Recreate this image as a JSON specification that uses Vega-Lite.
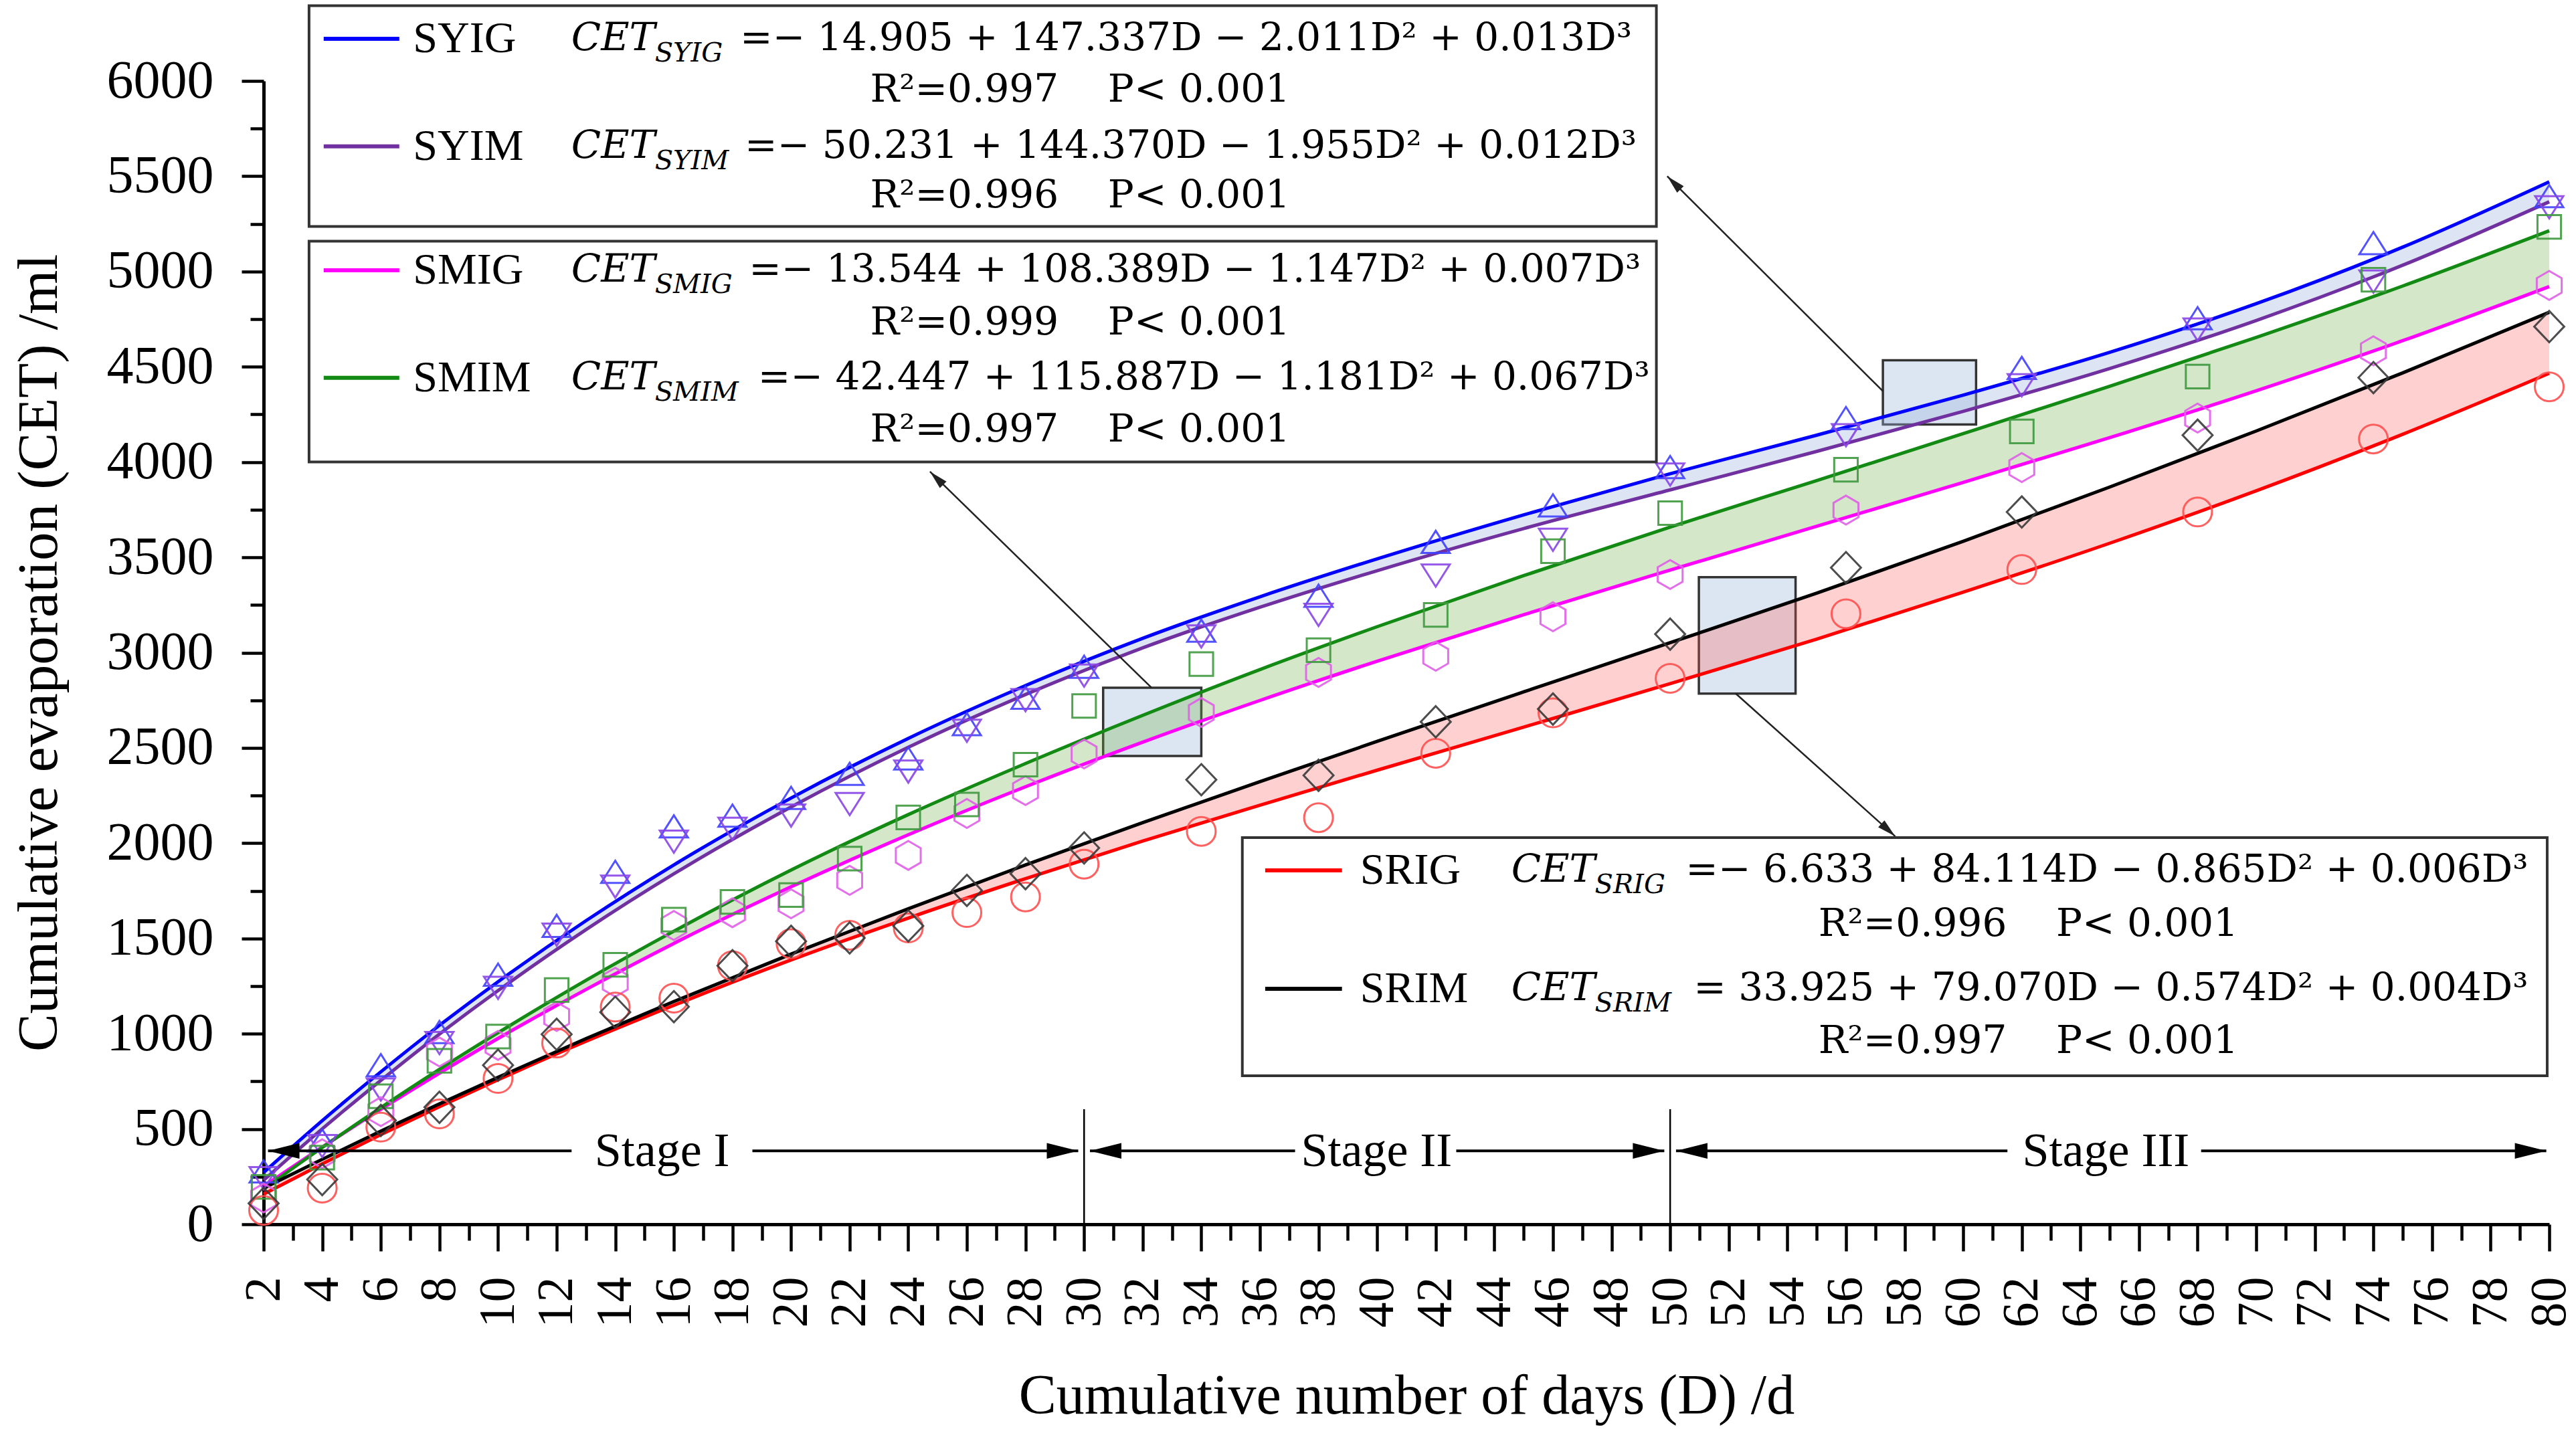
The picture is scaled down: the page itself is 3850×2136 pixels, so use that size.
{
  "$schema": "https://vega.github.io/schema/vega-lite/v6.json",
  "width": 3416,
  "height": 1709,
  "autosize": {"type": "none"},
  "padding": {"left": 394, "top": 121, "right": 40, "bottom": 306},
  "background": "white",
  "config": {"view": {"stroke": null}, "axis": {"grid": false}},
  "datasets": {
    "fit": [
      {"D": 2, "SYIG": 272, "SYIM": 231, "SMIG": 199, "SMIM": 185, "SRIG": 158, "SRIM": 190},
      {"D": 4, "SYIG": 544, "SYIM": 501, "SMIG": 405, "SMIM": 403, "SRIG": 317, "SRIM": 341},
      {"D": 6, "SYIG": 800, "SYIM": 755, "SMIG": 603, "SMIM": 612, "SRIG": 470, "SRIM": 489},
      {"D": 8, "SYIG": 1044, "SYIM": 998, "SMIG": 793, "SMIM": 813, "SRIG": 617, "SRIM": 632},
      {"D": 10, "SYIG": 1273, "SYIM": 1226, "SMIG": 975, "SMIM": 1005, "SRIG": 758, "SRIM": 771},
      {"D": 13, "SYIG": 1593, "SYIM": 1546, "SMIG": 1232, "SMIM": 1280, "SRIG": 960, "SRIM": 974},
      {"D": 16, "SYIG": 1886, "SYIM": 1839, "SMIG": 1474, "SMIM": 1538, "SRIG": 1149, "SRIM": 1169},
      {"D": 20, "SYIG": 2237, "SYIM": 2190, "SMIG": 1771, "SMIM": 1859, "SRIG": 1387, "SRIM": 1418},
      {"D": 24, "SYIG": 2550, "SYIM": 2503, "SMIG": 2044, "SMIM": 2150, "SRIG": 1607, "SRIM": 1656},
      {"D": 28, "SYIG": 2827, "SYIM": 2780, "SMIG": 2296, "SMIM": 2418, "SRIG": 1814, "SRIM": 1886},
      {"D": 32, "SYIG": 3075, "SYIM": 3025, "SMIG": 2530, "SMIM": 2671, "SRIG": 2011, "SRIM": 2108},
      {"D": 36, "SYIG": 3293, "SYIM": 3238, "SMIG": 2749, "SMIM": 2911, "SRIG": 2199, "SRIM": 2323},
      {"D": 40, "SYIG": 3492, "SYIM": 3430, "SMIG": 2955, "SMIM": 3136, "SRIG": 2383, "SRIM": 2534},
      {"D": 45, "SYIG": 3723, "SYIM": 3651, "SMIG": 3199, "SMIM": 3404, "SRIG": 2609, "SRIM": 2794},
      {"D": 50, "SYIG": 3939, "SYIM": 3854, "SMIG": 3433, "SMIM": 3659, "SRIG": 2837, "SRIM": 3052},
      {"D": 55, "SYIG": 4141, "SYIM": 4056, "SMIG": 3663, "SMIM": 3903, "SRIG": 3071, "SRIM": 3312},
      {"D": 60, "SYIG": 4351, "SYIM": 4266, "SMIG": 3893, "SMIM": 4149, "SRIG": 3317, "SRIM": 3584},
      {"D": 65, "SYIG": 4576, "SYIM": 4491, "SMIG": 4128, "SMIM": 4398, "SRIG": 3574, "SRIM": 3869},
      {"D": 70, "SYIG": 4831, "SYIM": 4743, "SMIG": 4374, "SMIM": 4654, "SRIG": 3849, "SRIM": 4163},
      {"D": 75, "SYIG": 5128, "SYIM": 5033, "SMIG": 4637, "SMIM": 4924, "SRIG": 4146, "SRIM": 4468},
      {"D": 80, "SYIG": 5471, "SYIM": 5366, "SMIG": 4921, "SMIM": 5214, "SRIG": 4466, "SRIM": 4786}
    ],
    "obs": [
      {"D": 2, "SYIG": 278, "SYIM": 242, "SMIG": 138, "SMIM": 196, "SRIG": 73, "SRIM": 110},
      {"D": 4, "SYIG": 440, "SYIM": 410, "SMIG": 370, "SMIM": 350, "SRIG": 190, "SRIM": 235},
      {"D": 6, "SYIG": 835, "SYIM": 707, "SMIG": 591, "SMIM": 672, "SRIG": 510, "SRIM": 545},
      {"D": 8, "SYIG": 1009, "SYIM": 951, "SMIG": 904, "SMIM": 858, "SRIG": 579, "SRIM": 614},
      {"D": 10, "SYIG": 1310, "SYIM": 1241, "SMIG": 939, "SMIM": 985, "SRIG": 765, "SRIM": 835},
      {"D": 12, "SYIG": 1566, "SYIM": 1520, "SMIG": 1090, "SMIM": 1229, "SRIG": 951, "SRIM": 997},
      {"D": 14, "SYIG": 1850, "SYIM": 1772, "SMIG": 1270, "SMIM": 1362, "SRIG": 1140, "SRIM": 1113},
      {"D": 16, "SYIG": 2088, "SYIM": 2008, "SMIG": 1568, "SMIM": 1599, "SRIG": 1187, "SRIM": 1142},
      {"D": 18, "SYIG": 2145, "SYIM": 2075, "SMIG": 1635, "SMIM": 1692, "SRIG": 1357, "SRIM": 1357},
      {"D": 20, "SYIG": 2238, "SYIM": 2145, "SMIG": 1682, "SMIM": 1728, "SRIG": 1473, "SRIM": 1485},
      {"D": 22, "SYIG": 2364, "SYIM": 2205, "SMIG": 1805, "SMIM": 1919, "SRIG": 1517, "SRIM": 1503},
      {"D": 24, "SYIG": 2445, "SYIM": 2376, "SMIG": 1936, "SMIM": 2135, "SRIG": 1555, "SRIM": 1566},
      {"D": 26, "SYIG": 2625, "SYIM": 2590, "SMIG": 2156, "SMIM": 2203, "SRIG": 1636, "SRIM": 1752},
      {"D": 28, "SYIG": 2763, "SYIM": 2750, "SMIG": 2276, "SMIM": 2412, "SRIG": 1718, "SRIM": 1840},
      {"D": 30, "SYIG": 2926, "SYIM": 2879, "SMIG": 2468, "SMIM": 2720, "SRIG": 1890, "SRIM": 1975},
      {"D": 34, "SYIG": 3115, "SYIM": 3085, "SMIG": 2686, "SMIM": 2940, "SRIG": 2062, "SRIM": 2333},
      {"D": 38, "SYIG": 3299, "SYIM": 3198, "SMIG": 2896, "SMIM": 3013, "SRIG": 2134, "SRIM": 2356},
      {"D": 42, "SYIG": 3581, "SYIM": 3404, "SMIG": 2981, "SMIM": 3198, "SRIG": 2472, "SRIM": 2637},
      {"D": 46, "SYIG": 3773, "SYIM": 3592, "SMIG": 3188, "SMIM": 3532, "SRIG": 2684, "SRIM": 2704},
      {"D": 50, "SYIG": 3974, "SYIM": 3934, "SMIG": 3410, "SMIM": 3732, "SRIG": 2865, "SRIM": 3097},
      {"D": 56, "SYIG": 4231, "SYIM": 4141, "SMIG": 3748, "SMIM": 3960, "SRIG": 3204, "SRIM": 3446},
      {"D": 62, "SYIG": 4494, "SYIM": 4403, "SMIG": 3971, "SMIM": 4161, "SRIG": 3436, "SRIM": 3738},
      {"D": 68, "SYIG": 4755, "SYIM": 4695, "SMIG": 4231, "SMIM": 4449, "SRIG": 3738, "SRIM": 4141},
      {"D": 74, "SYIG": 5149, "SYIM": 4947, "SMIG": 4584, "SMIM": 4957, "SRIG": 4121, "SRIM": 4443},
      {"D": 80, "SYIG": 5396, "SYIM": 5337, "SMIG": 4927, "SMIM": 5234, "SRIG": 4395, "SRIM": 4711}
    ],
    "mags": [
      {"D": 30.65, "D2": 34.0, "v": 2458, "v2": 2816},
      {"D": 50.98, "D2": 54.28, "v": 2785, "v2": 3396},
      {"D": 57.26, "D2": 60.44, "v": 4197, "v2": 4534}
    ],
    "pointers": [
      {"D": 57.26, "v": 4372, "D2": 49.9, "v2": 5500},
      {"D": 32.3, "v": 2816, "D2": 24.74, "v2": 3950},
      {"D": 52.24, "v": 2785, "D2": 57.68, "v2": 2036}
    ],
    "tips": [
      {"D": 49.9, "v": 5500, "dir": "ul"},
      {"D": 24.74, "v": 3950, "dir": "ul"},
      {"D": 57.68, "v": 2036, "dir": "dr"}
    ],
    "stagelines": [
      {"D": 2.15, "D2": 12.51, "v": 385},
      {"D": 18.68, "D2": 29.8, "v": 385},
      {"D": 30.2, "D2": 37.2, "v": 385},
      {"D": 42.7, "D2": 49.8, "v": 385},
      {"D": 50.2, "D2": 61.51, "v": 385},
      {"D": 68.12, "D2": 79.9, "v": 385}
    ],
    "dividers": [
      {"D": 30, "v": 0, "v2": 604},
      {"D": 50, "v": 0, "v2": 604}
    ],
    "heads": [
      {"D": 2.15, "v": 385, "dir": "L"},
      {"D": 30.2, "v": 385, "dir": "L"},
      {"D": 50.2, "v": 385, "dir": "L"},
      {"D": 29.8, "v": 385, "dir": "R"},
      {"D": 49.8, "v": 385, "dir": "R"},
      {"D": 79.9, "v": 385, "dir": "R"}
    ],
    "boxes": [
      {"D": 3.55, "D2": 49.53, "v": 5236, "v2": 6395},
      {"D": 3.55, "D2": 49.53, "v": 4001, "v2": 5159},
      {"D": 35.4, "D2": 79.93, "v": 779, "v2": 2029}
    ],
    "keys": [
      {"D": 4.05, "D2": 6.63, "v": 6221, "s": "SYIG"},
      {"D": 4.05, "D2": 6.63, "v": 5657, "s": "SYIM"},
      {"D": 4.05, "D2": 6.63, "v": 5006, "s": "SMIG"},
      {"D": 4.05, "D2": 6.63, "v": 4442, "s": "SMIM"},
      {"D": 36.18, "D2": 38.8, "v": 1857, "s": "SRIG"},
      {"D": 36.18, "D2": 38.8, "v": 1236, "s": "SRIM"}
    ],
    "notes": [
      {"D": 7.1, "v": 6221, "t": "SYIG", "k": "label"},
      {"D": 7.1, "v": 5657, "t": "SYIM", "k": "label"},
      {"D": 7.1, "v": 5006, "t": "SMIG", "k": "label"},
      {"D": 7.1, "v": 4442, "t": "SMIM", "k": "label"},
      {"D": 39.42, "v": 1857, "t": "SRIG", "k": "label"},
      {"D": 39.42, "v": 1236, "t": "SRIM", "k": "label"},
      {"D": 12.5, "v": 6221, "t": "CET", "k": "cet"},
      {"D": 12.5, "v": 5657, "t": "CET", "k": "cet"},
      {"D": 12.5, "v": 5006, "t": "CET", "k": "cet"},
      {"D": 12.5, "v": 4442, "t": "CET", "k": "cet"},
      {"D": 44.58, "v": 1857, "t": "CET", "k": "cet"},
      {"D": 44.58, "v": 1236, "t": "CET", "k": "cet"},
      {"D": 15.35, "v": 6143, "t": "SYIG", "k": "sub"},
      {"D": 15.35, "v": 5579, "t": "SYIM", "k": "sub"},
      {"D": 15.35, "v": 4928, "t": "SMIG", "k": "sub"},
      {"D": 15.35, "v": 4364, "t": "SMIM", "k": "sub"},
      {"D": 47.43, "v": 1779, "t": "SRIG", "k": "sub"},
      {"D": 47.43, "v": 1158, "t": "SRIM", "k": "sub"},
      {"D": 18.26, "v": 6221, "t": "=− 14.905 + 147.337D − 2.011D² + 0.013D³", "k": "eq"},
      {"D": 18.42, "v": 5657, "t": "=− 50.231 + 144.370D − 1.955D² + 0.012D³", "k": "eq"},
      {"D": 18.56, "v": 5006, "t": "=− 13.544 + 108.389D − 1.147D² + 0.007D³", "k": "eq"},
      {"D": 18.87, "v": 4442, "t": "=− 42.447 + 115.887D − 1.181D² + 0.067D³", "k": "eq"},
      {"D": 50.53, "v": 1857, "t": "=− 6.633 + 84.114D − 0.865D² + 0.006D³", "k": "eq"},
      {"D": 50.8, "v": 1236, "t": "= 33.925 + 79.070D − 0.574D² + 0.004D³", "k": "eq"},
      {"D": 22.7, "v": 5951, "t": "R²=0.997\u00a0\u00a0\u00a0\u00a0P< 0.001", "k": "r2"},
      {"D": 22.7, "v": 5396, "t": "R²=0.996\u00a0\u00a0\u00a0\u00a0P< 0.001", "k": "r2"},
      {"D": 22.7, "v": 4729, "t": "R²=0.999\u00a0\u00a0\u00a0\u00a0P< 0.001", "k": "r2"},
      {"D": 22.7, "v": 4168, "t": "R²=0.997\u00a0\u00a0\u00a0\u00a0P< 0.001", "k": "r2"},
      {"D": 55.06, "v": 1573, "t": "R²=0.996\u00a0\u00a0\u00a0\u00a0P< 0.001", "k": "r2"},
      {"D": 55.06, "v": 958, "t": "R²=0.997\u00a0\u00a0\u00a0\u00a0P< 0.001", "k": "r2"},
      {"D": 15.6, "v": 384, "t": "Stage I", "k": "stage"},
      {"D": 39.98, "v": 384, "t": "Stage II", "k": "stage"},
      {"D": 64.87, "v": 384, "t": "Stage III", "k": "stage"}
    ]
  },
  "layer": [
    {
      "data": {"name": "mags"},
      "mark": {"type": "rect", "fill": "#dce6f2", "stroke": "#333333", "strokeWidth": 3.5},
      "encoding": {
        "x": {
          "field": "D", "type": "quantitative",
          "scale": {"domain": [2, 80], "nice": false, "zero": false},
          "axis": {
            "values": [2,3,4,5,6,7,8,9,10,11,12,13,14,15,16,17,18,19,20,21,22,23,24,25,26,27,28,29,30,31,32,33,34,35,36,37,38,39,40,41,42,43,44,45,46,47,48,49,50,51,52,53,54,55,56,57,58,59,60,61,62,63,64,65,66,67,68,69,70,71,72,73,74,75,76,77,78,79,80],
            "format": "d",
            "labelExpr": "datum.value % 2 === 0 ? datum.label : ''",
            "labelAngle": -90,
            "labelFont": "Liberation Serif",
            "labelFontSize": 76,
            "labelColor": "black",
            "labelPadding": 38,
            "labelFlush": false,
            "labelOverlap": false,
            "labelBound": false,
            "tickColor": "black",
            "tickWidth": 4.5,
            "tickSize": {"condition": {"test": "datum.value % 2 === 0", "value": 40}, "value": 24},
            "domainColor": "black",
            "domainWidth": 5,
            "grid": false,
            "title": "Cumulative number of days (D) /d",
            "titleFont": "Liberation Serif",
            "titleFontSize": 84,
            "titleFontWeight": "normal",
            "titleColor": "black",
            "titlePadding": 62
          }
        },
        "x2": {"field": "D2"},
        "y": {
          "field": "v", "type": "quantitative",
          "scale": {"domain": [0, 6000], "nice": false, "zero": false},
          "axis": {
            "values": [0,250,500,750,1000,1250,1500,1750,2000,2250,2500,2750,3000,3250,3500,3750,4000,4250,4500,4750,5000,5250,5500,5750,6000],
            "format": "d",
            "labelExpr": "datum.value % 500 === 0 ? datum.label : ''",
            "labelFont": "Liberation Serif",
            "labelFontSize": 80,
            "labelColor": "black",
            "labelPadding": 42,
            "labelFlush": false,
            "labelOverlap": false,
            "labelBound": false,
            "tickColor": "black",
            "tickWidth": 4.5,
            "tickSize": {"condition": {"test": "datum.value % 500 === 0", "value": 33}, "value": 20},
            "domainColor": "black",
            "domainWidth": 5,
            "grid": false,
            "title": "Cumulative evaporation (CET) /ml",
            "titleFont": "Liberation Serif",
            "titleFontSize": 85,
            "titleFontWeight": "normal",
            "titleColor": "black",
            "titlePadding": 92
          }
        },
        "y2": {"field": "v2"}
      }
    },
    {
      "data": {"name": "fit"},
      "mark": {"type": "area", "color": "#9db3e0", "opacity": 0.35, "interpolate": "monotone"},
      "encoding": {
        "x": {"field": "D", "type": "quantitative"},
        "y": {"field": "SYIG", "type": "quantitative"},
        "y2": {"field": "SYIM"}
      }
    },
    {
      "data": {"name": "fit"},
      "mark": {"type": "area", "color": "#6fb04a", "opacity": 0.3, "interpolate": "monotone"},
      "encoding": {
        "x": {"field": "D", "type": "quantitative"},
        "y": {"field": "SMIM", "type": "quantitative"},
        "y2": {"field": "SMIG"}
      }
    },
    {
      "data": {"name": "fit"},
      "mark": {"type": "area", "color": "#ff5555", "opacity": 0.28, "interpolate": "monotone"},
      "encoding": {
        "x": {"field": "D", "type": "quantitative"},
        "y": {"field": "SRIM", "type": "quantitative"},
        "y2": {"field": "SRIG"}
      }
    },
    {
      "data": {"name": "fit"},
      "transform": [{"fold": ["SYIG", "SYIM", "SMIG", "SMIM", "SRIG", "SRIM"], "as": ["s", "v"]}],
      "mark": {"type": "line", "strokeWidth": 5, "interpolate": "monotone"},
      "encoding": {
        "x": {"field": "D", "type": "quantitative"},
        "y": {"field": "v", "type": "quantitative"},
        "color": {
          "field": "s", "type": "nominal", "legend": null,
          "scale": {
            "domain": ["SYIG", "SYIM", "SMIG", "SMIM", "SRIG", "SRIM"],
            "range": ["#0000ff", "#7030a0", "#ff00ff", "#138a13", "#ff0000", "#000000"]
          }
        }
      }
    },
    {
      "data": {"name": "obs"},
      "transform": [{"fold": ["SYIG", "SYIM", "SMIG", "SMIM", "SRIG", "SRIM"], "as": ["s", "v"]}],
      "mark": {"type": "point", "filled": false, "strokeWidth": 3, "opacity": 0.9, "size": 1600},
      "encoding": {
        "x": {"field": "D", "type": "quantitative"},
        "y": {"field": "v", "type": "quantitative"},
        "shape": {
          "field": "s", "type": "nominal", "legend": null,
          "scale": {
            "domain": ["SYIG", "SYIM", "SMIG", "SMIM", "SRIG", "SRIM"],
            "range": [
              "M0,-0.83L1.05,0.83L-1.05,0.83Z",
              "M0,0.83L1.05,-0.83L-1.05,-0.83Z",
              "M0,-1.08L0.93,-0.54L0.93,0.54L0,1.08L-0.93,0.54L-0.93,-0.54Z",
              "M-0.88,-0.88L0.88,-0.88L0.88,0.88L-0.88,0.88Z",
              "M1.075,0C1.075,0.594,0.594,1.075,0,1.075C-0.594,1.075,-1.075,0.594,-1.075,0C-1.075,-0.594,-0.594,-1.075,0,-1.075C0.594,-1.075,1.075,-0.594,1.075,0Z",
              "M0,-1.17L1.12,0L0,1.17L-1.12,0Z"
            ]
          }
        },
        "stroke": {
          "field": "s", "type": "nominal", "legend": null,
          "scale": {
            "domain": ["SYIG", "SYIM", "SMIG", "SMIM", "SRIG", "SRIM"],
            "range": ["#4040ff", "#8a45e6", "#e060e8", "#3f9a3f", "#ff5050", "#3a3a3a"]
          }
        }
      }
    },
    {
      "data": {"name": "dividers"},
      "mark": {"type": "rule", "color": "black", "strokeWidth": 2.5},
      "encoding": {
        "x": {"field": "D", "type": "quantitative"},
        "y": {"field": "v", "type": "quantitative"},
        "y2": {"field": "v2"}
      }
    },
    {
      "data": {"name": "stagelines"},
      "mark": {"type": "rule", "color": "black", "strokeWidth": 4},
      "encoding": {
        "x": {"field": "D", "type": "quantitative"},
        "x2": {"field": "D2"},
        "y": {"field": "v", "type": "quantitative"}
      }
    },
    {
      "data": {"name": "heads"},
      "transform": [{"filter": "datum.dir === 'L'"}],
      "mark": {"type": "point", "shape": "M0,0L2,-0.5L2,0.5Z", "filled": true, "color": "black", "opacity": 1, "size": 2209},
      "encoding": {
        "x": {"field": "D", "type": "quantitative"},
        "y": {"field": "v", "type": "quantitative"}
      }
    },
    {
      "data": {"name": "heads"},
      "transform": [{"filter": "datum.dir === 'R'"}],
      "mark": {"type": "point", "shape": "M0,0L-2,-0.5L-2,0.5Z", "filled": true, "color": "black", "opacity": 1, "size": 2209},
      "encoding": {
        "x": {"field": "D", "type": "quantitative"},
        "y": {"field": "v", "type": "quantitative"}
      }
    },
    {
      "data": {"name": "notes"},
      "transform": [{"filter": "datum.k === 'stage'"}],
      "mark": {"type": "text", "font": "Liberation Serif", "fontSize": 72, "align": "center", "baseline": "middle", "color": "black"},
      "encoding": {
        "x": {"field": "D", "type": "quantitative"},
        "y": {"field": "v", "type": "quantitative"},
        "text": {"field": "t"}
      }
    },
    {
      "data": {"name": "pointers"},
      "mark": {"type": "rule", "color": "#222222", "strokeWidth": 2.5},
      "encoding": {
        "x": {"field": "D", "type": "quantitative"},
        "x2": {"field": "D2"},
        "y": {"field": "v", "type": "quantitative"},
        "y2": {"field": "v2"}
      }
    },
    {
      "data": {"name": "tips"},
      "transform": [{"filter": "datum.dir === 'ul'"}],
      "mark": {"type": "point", "shape": "M0,0L-0.45,1.8L0.45,1.8Z", "angle": -45, "filled": true, "color": "#222222", "opacity": 1, "size": 961},
      "encoding": {
        "x": {"field": "D", "type": "quantitative"},
        "y": {"field": "v", "type": "quantitative"}
      }
    },
    {
      "data": {"name": "tips"},
      "transform": [{"filter": "datum.dir === 'dr'"}],
      "mark": {"type": "point", "shape": "M0,0L-0.45,1.8L0.45,1.8Z", "angle": 132, "filled": true, "color": "#222222", "opacity": 1, "size": 961},
      "encoding": {
        "x": {"field": "D", "type": "quantitative"},
        "y": {"field": "v", "type": "quantitative"}
      }
    },
    {
      "data": {"name": "boxes"},
      "mark": {"type": "rect", "fill": "white", "stroke": "#333333", "strokeWidth": 4},
      "encoding": {
        "x": {"field": "D", "type": "quantitative"},
        "x2": {"field": "D2"},
        "y": {"field": "v", "type": "quantitative"},
        "y2": {"field": "v2"}
      }
    },
    {
      "data": {"name": "keys"},
      "mark": {"type": "rule", "strokeWidth": 6},
      "encoding": {
        "x": {"field": "D", "type": "quantitative"},
        "x2": {"field": "D2"},
        "y": {"field": "v", "type": "quantitative"},
        "color": {"field": "s", "type": "nominal", "legend": null}
      }
    },
    {
      "data": {"name": "notes"},
      "transform": [{"filter": "datum.k === 'label'"}],
      "mark": {"type": "text", "font": "Liberation Serif", "fontSize": 66, "align": "left", "baseline": "middle", "color": "black"},
      "encoding": {
        "x": {"field": "D", "type": "quantitative"},
        "y": {"field": "v", "type": "quantitative"},
        "text": {"field": "t"}
      }
    },
    {
      "data": {"name": "notes"},
      "transform": [{"filter": "datum.k === 'cet'"}],
      "mark": {"type": "text", "font": "DejaVu Serif", "fontStyle": "italic", "fontSize": 58, "align": "left", "baseline": "middle", "color": "black"},
      "encoding": {
        "x": {"field": "D", "type": "quantitative"},
        "y": {"field": "v", "type": "quantitative"},
        "text": {"field": "t"}
      }
    },
    {
      "data": {"name": "notes"},
      "transform": [{"filter": "datum.k === 'sub'"}],
      "mark": {"type": "text", "font": "DejaVu Serif", "fontStyle": "italic", "fontSize": 40, "align": "left", "baseline": "middle", "color": "black"},
      "encoding": {
        "x": {"field": "D", "type": "quantitative"},
        "y": {"field": "v", "type": "quantitative"},
        "text": {"field": "t"}
      }
    },
    {
      "data": {"name": "notes"},
      "transform": [{"filter": "datum.k === 'eq' || datum.k === 'r2'"}],
      "mark": {"type": "text", "font": "DejaVu Serif", "fontSize": 58, "align": "left", "baseline": "middle", "color": "black"},
      "encoding": {
        "x": {"field": "D", "type": "quantitative"},
        "y": {"field": "v", "type": "quantitative"},
        "text": {"field": "t"}
      }
    }
  ]
}
